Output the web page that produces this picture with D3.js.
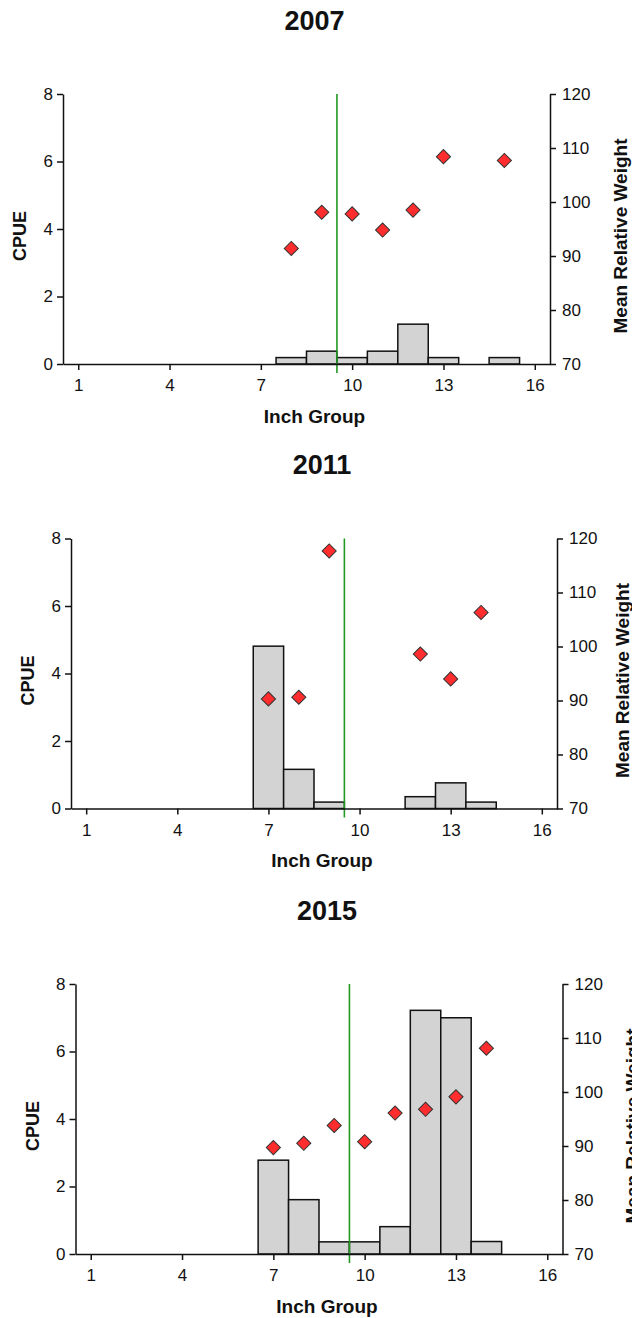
<!DOCTYPE html>
<html><head><meta charset="utf-8">
<script src="https://cdn.jsdelivr.net/npm/d3@7/dist/d3.min.js"></script>
<style>body{margin:0;background:#fff}svg{display:block}</style>
</head><body>
<script>
const years = ["2007", "2011", "2015"];
const xTicks = [1, 4, 7, 10, 13, 16];
const cpueTicks = [0, 2, 4, 6, 8];
const wrTicks = [70, 80, 90, 100, 110, 120];
const lengthLimit = 9.5;

const barGroups2007 = [8, 9, 10, 11, 12, 13, 15];
const cpue2007 = [0.19, 0.38, 0.19, 0.38, 1.18, 0.19, 0.19];
const wrGroups2007 = [8, 9, 10, 11, 12, 13, 15];
const wr2007 = [91.4, 98.1, 97.8, 94.8, 98.5, 108.4, 107.7];

const barGroups2011 = [7, 8, 9, 12, 13, 14];
const cpue2011 = [4.81, 1.16, 0.19, 0.35, 0.76, 0.19];
const wrGroups2011 = [7, 8, 9, 12, 13, 14];
const wr2011 = [90.3, 90.6, 117.7, 98.6, 94.0, 106.3];

const barGroups2015 = [7, 8, 9, 10, 11, 12, 13, 14];
const cpue2015 = [2.78, 1.61, 0.36, 0.36, 0.81, 7.22, 7.0, 0.37];
const wrGroups2015 = [7, 8, 9, 10, 11, 12, 13, 14];
const wr2015 = [89.7, 90.5, 93.8, 90.8, 96.1, 96.8, 99.1, 108.1];

const panelData = [
  {bg: barGroups2007, cpue: cpue2007, wg: wrGroups2007, wr: wr2007},
  {bg: barGroups2011, cpue: cpue2011, wg: wrGroups2011, wr: wr2011},
  {bg: barGroups2015, cpue: cpue2015, wg: wrGroups2015, wr: wr2015}
];
const layout = [
  {left: 63, top: 94, width: 487, rightTitle: 70},
  {left: 71, top: 538.5, width: 486, rightTitle: 65},
  {left: 75.5, top: 984, width: 487, rightTitle: 70}
];
const H = 270;
const FONT = "Liberation Sans, Arial, Helvetica, sans-serif";

const svg = d3.select("body").append("svg").attr("width", 632).attr("height", 1318)
  .style("font-family", FONT);

years.forEach((yr, i) => {
  const L = layout[i], D = panelData[i];
  const g = svg.append("g").attr("transform", `translate(${L.left},${L.top})`);
  const x = d3.scaleLinear().domain([0.5, 16.5]).range([0, L.width]);
  const y = d3.scaleLinear().domain([0, 8]).range([H, 0]);
  const y2 = d3.scaleLinear().domain([70, 120]).range([H, 0]);

  // title
  svg.append("text").attr("x", L.left + L.width / 2 + 8).attr("y", L.top - 74)
    .attr("dy", "0.36em").attr("text-anchor", "middle")
    .attr("font-size", 27).attr("font-weight", "bold").attr("fill", "#111").text(yr);

  // bars
  g.selectAll("rect.bar").data(D.bg.map((b, j) => ({b, v: D.cpue[j]}))).join("rect")
    .attr("class", "bar")
    .attr("x", d => x(d.b - 0.5)).attr("width", d => x(d.b + 0.5) - x(d.b - 0.5))
    .attr("y", d => y(d.v)).attr("height", d => y(0) - y(d.v))
    .attr("fill", "#d3d3d3").attr("stroke", "#111").attr("stroke-width", 1.5);

  // green line
  g.append("line").attr("x1", x(lengthLimit)).attr("x2", x(lengthLimit))
    .attr("y1", y(8)).attr("y2", y(0) + 9)
    .attr("stroke", "#229a22").attr("stroke-width", 1.6);

  // axes
  const ax = d3.axisBottom(x).tickValues(xTicks).tickSize(6).tickPadding(9).tickSizeOuter(0);
  const ay = d3.axisLeft(y).tickValues(cpueTicks).tickSize(6).tickPadding(4).tickSizeOuter(0);
  const ay2 = d3.axisRight(y2).tickValues(wrTicks).tickSize(6).tickPadding(6).tickSizeOuter(0);
  [
    g.append("g").attr("transform", `translate(0,${H})`).call(ax),
    g.append("g").call(ay),
    g.append("g").attr("transform", `translate(${L.width},0)`).call(ay2)
  ].forEach(a => {
    a.selectAll("path,line").attr("stroke", "#111").attr("stroke-width", 1.5);
    a.selectAll("text").attr("font-size", 17).attr("fill", "#111").style("font-family", FONT);
  });

  // diamonds
  g.selectAll("path.dia").data(D.wg.map((b, j) => ({b, v: D.wr[j]}))).join("path")
    .attr("class", "dia")
    .attr("d", d3.symbol(d3.symbolSquare, 100))
    .attr("transform", d => `translate(${x(d.b)},${y2(d.v)}) rotate(45)`)
    .attr("fill", "#ff2d2d").attr("stroke", "#333").attr("stroke-width", 1);

  // axis titles
  g.append("text").attr("x", L.width / 2 + 8).attr("y", H + 52).attr("dy", "0.36em")
    .attr("text-anchor", "middle").attr("font-size", 19).attr("font-weight", "bold")
    .attr("fill", "#111").text("Inch Group");
  g.append("text").attr("transform", `translate(-43,${H / 2 + 7}) rotate(-90)`)
    .attr("dy", "0.36em").attr("text-anchor", "middle").attr("font-size", 18)
    .attr("font-weight", "bold").attr("fill", "#111").text("CPUE");
  g.append("text").attr("transform", `translate(${L.width + L.rightTitle},${H / 2 + 7}) rotate(-90)`)
    .attr("dy", "0.36em").attr("text-anchor", "middle").attr("font-size", 19)
    .attr("font-weight", "bold").attr("fill", "#111").text("Mean Relative Weight");
});
</script>
</body></html>
